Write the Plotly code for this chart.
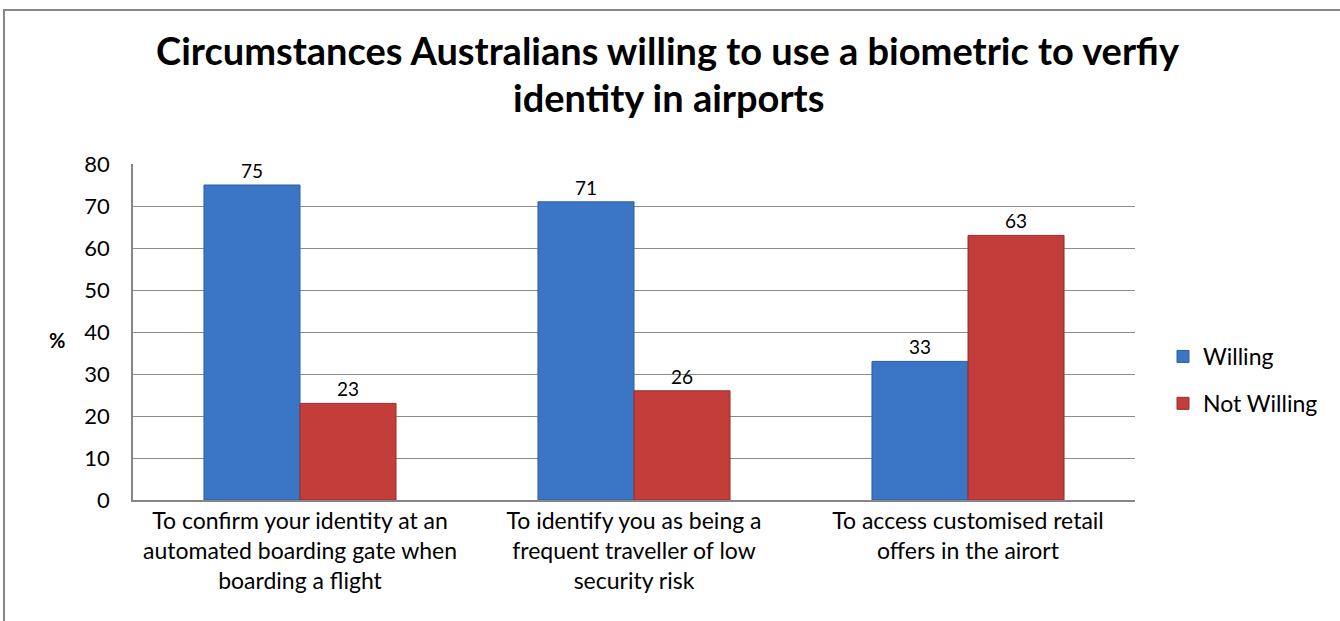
import plotly.graph_objects as go

categories = [
    "To confirm your identity at an<br>automated boarding gate when<br>boarding a flight",
    "To identify you as being a<br>frequent traveller of low<br>security risk",
    "To access customised retail<br>offers in the airort",
]
willing = [75, 71, 33]
not_willing = [23, 26, 63]
y_ticks = [0, 10, 20, 30, 40, 50, 60, 70, 80]
title_lines = [
    "Circumstances Australians willing to use a biometric to verfiy",
    "identity in airports",
]

FONT = "Lato, Carlito, Calibri, sans-serif"
W, H = 1340, 621
L, R, T, B = 133, 205, 164, 121
pw, ph = W - L - R, H - T - B


def py(pix):
    """pixel y from top -> paper y"""
    return (H - B - pix) / ph


def px(pix):
    return (pix - L) / pw


fig = go.Figure()
fig.add_trace(go.Bar(
    name="Willing", x=categories, y=willing, legendgroup="w",
    marker=dict(color="#3b76c6", line=dict(color="#2d5e9e", width=1)),
    text=[str(v) for v in willing], textposition="outside",
    textfont=dict(size=19, color="#000000", family=FONT), cliponaxis=False,
))
fig.add_trace(go.Bar(
    name="Not Willing", x=categories, y=not_willing, legendgroup="n",
    marker=dict(color="#c33d3a", line=dict(color="#9a2e2c", width=1)),
    text=[str(v) for v in not_willing], textposition="outside",
    textfont=dict(size=19, color="#000000", family=FONT), cliponaxis=False,
))

annotations = []
for txt, yc in zip(title_lines, [50, 97]):
    annotations.append(dict(
        text="<b>" + txt + "</b>", xref="paper", yref="paper",
        x=px(668), y=py(yc), xanchor="center", yanchor="middle",
        showarrow=False, font=dict(size=38, family=FONT, color="#000000"),
    ))
annotations.append(dict(
    text="<b>%</b>", xref="paper", yref="paper", x=px(57), y=py(340),
    xanchor="center", yanchor="middle", showarrow=False,
    font=dict(size=20, family=FONT, color="#000000"),
))

fig.update_layout(
    width=W, height=H,
    margin=dict(l=L, r=R, t=T, b=B),
    paper_bgcolor="white", plot_bgcolor="white",
    barmode="group", bargap=0.425, bargroupgap=0,
    font=dict(family=FONT, color="#000000", size=20),
    showlegend=True,
    legend=dict(
        x=px(1163), xanchor="left", y=py(335), yanchor="top",
        font=dict(size=23, family=FONT), tracegroupgap=14, itemwidth=30,
        bgcolor="rgba(0,0,0,0)", traceorder="grouped",
    ),
    xaxis=dict(
        showline=True, linecolor="#868686", linewidth=1.5,
        ticks="", tickfont=dict(size=23, family=FONT), mirror=False,
    ),
    yaxis=dict(
        range=[0, 80], tickvals=y_ticks, showgrid=True, gridcolor="#8c8c8c", gridwidth=1.2,
        showline=True, linecolor="#868686", linewidth=1.5,
        ticks="", ticklabelstandoff=17,
        tickfont=dict(size=22, family=FONT), zeroline=False,
    ),
    annotations=annotations,
    shapes=[dict(
        type="rect", xref="paper", yref="paper",
        x0=px(4), x1=px(W + 100),
        y0=py(H + 60), y1=py(10),
        line=dict(color="#878787", width=2), fillcolor="rgba(0,0,0,0)", layer="below",
    )],
)

fig.write_html("out.html")
